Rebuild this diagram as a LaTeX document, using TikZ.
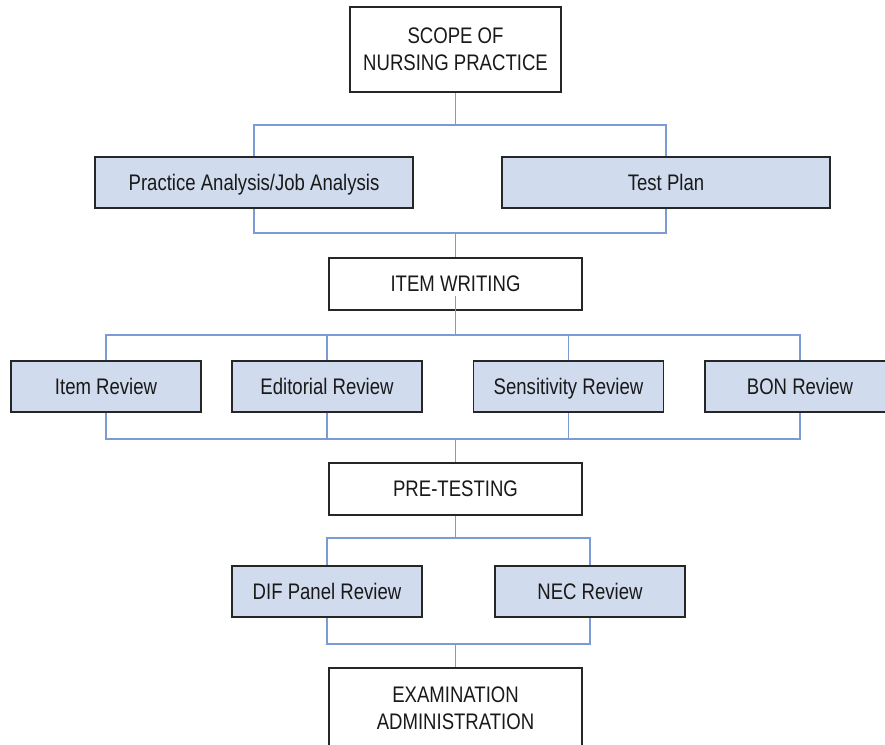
\documentclass[tikz,border=0pt]{standalone}
\usepackage{fontspec}
\setmainfont{Liberation Sans}[FakeStretch=0.825]
\begin{document}
\begin{tikzpicture}[x=1pt,y=-1pt,
  box/.style={draw=black!85, line width=1.3pt, fill=white, inner sep=0pt, align=center,
    text depth=0pt, font=\fontsize{22.5}{27}\selectfont, text=black!90},
  bbox/.style={box, fill=boxblue},
  conn/.style={draw=lineblue, line width=1.4pt},
  w1/.style={minimum width=190pt, minimum height=51pt}]
\definecolor{boxblue}{HTML}{D0DBED}
\definecolor{lineblue}{HTML}{7A9BD6}
\useasboundingbox (0,0) rectangle (885,744);

% bus coordinates
\coordinate (b1) at (455.5,125);
\coordinate (b2) at (455.5,233);
\coordinate (b3) at (455.5,335);
\coordinate (b4) at (455.5,439);
\coordinate (b5) at (455.5,538);
\coordinate (b6) at (455.5,644);

% nodes
\node[box, minimum width=211pt, minimum height=85pt] (scope) at (455.5,49.5) {SCOPE OF\\NURSING PRACTICE};
\node[bbox, minimum width=318pt, minimum height=51pt] (pa) at (254,182.5) {Practice Analysis/Job Analysis};
\node[bbox, minimum width=328pt, minimum height=51pt] (tp) at (666,182.5) {Test Plan};
\node[box, minimum width=253pt, minimum height=52pt] (iw) at (455.5,284) {ITEM WRITING};
\node[bbox, w1] (ir) at (106,386.5) {Item Review};
\node[bbox, w1] (er) at (327,386.5) {Editorial Review};
\node[bbox, w1] (sr) at (568.5,386.5) {Sensitivity Review};
\node[bbox, w1] (bon) at (800,386.5) {BON Review};
\node[box, minimum width=253pt, minimum height=52pt] (pt) at (455.5,489) {PRE-TESTING};
\node[bbox, w1] (dif) at (327,591.5) {DIF Panel Review};
\node[bbox, w1] (nec) at (590,591.5) {NEC Review};
\node[box, minimum width=253pt, minimum height=80pt] (exam) at (455.5,708) {EXAMINATION\\ADMINISTRATION};

% connectors
\draw[conn] (scope.south) -- (b1);
\draw[conn] (pa.north) |- (b1) -| (tp.north);
\draw[conn] (pa.south) |- (b2) -| (tp.south);
\draw[conn] (b2) -- (iw.north);
\draw[conn] (iw.south) -- (b3);
\draw[conn] (iw.south) -- ++(0,-15);
\draw[conn] (ir.north) |- (b3) -| (bon.north);
\draw[conn] (er.north) -- (er.north |- b3);
\draw[conn] (sr.north) -- (sr.north |- b3);
\draw[conn] (ir.south) |- (b4) -| (bon.south);
\draw[conn] (er.south) -- (er.south |- b4);
\draw[conn] (sr.south) -- (sr.south |- b4);
\draw[conn] (b4) -- (pt.north);
\draw[conn] (pt.south) -- (b5);
\draw[conn] (dif.north) |- (b5) -| (nec.north);
\draw[conn] (dif.south) |- (b6) -| (nec.south);
\draw[conn] (b6) -- (exam.north);
\end{tikzpicture}
\end{document}
